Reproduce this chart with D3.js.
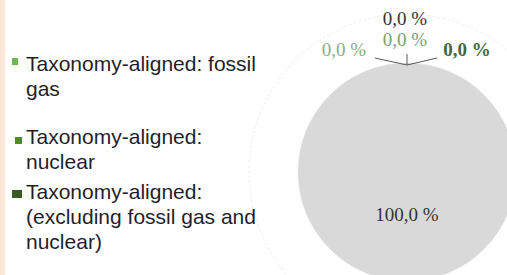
<!DOCTYPE html>
<html lang="en">
<head>
	<meta charset="utf-8">
	<title>Taxonomy alignment pie</title>
	<script type="text/javascript" src="https://cdn.jsdelivr.net/npm/d3@7"></script>
	<style>
		body { margin: 0; background: #fff; }
		.legend text { font-family: "Liberation Sans", Arial, sans-serif; font-size: 21px; fill: #1f1f2a; }
		.lbl { font-family: "Liberation Serif", "Times New Roman", serif; font-size: 19px; text-anchor: middle; }
	</style>
</head>
<body>
	<div id="chart"></div>

	<script type="text/javascript">

		// data
		var categories = ["Taxonomy-aligned: fossil gas",
			"Taxonomy-aligned: nuclear",
			"Taxonomy-aligned: (excluding fossil gas and nuclear)",
			"Other",
			"Non Taxonomy-aligned"];
		var values = [0, 0, 0, 0, 100];
		var colors = ["#6db94f", "#4f8a2f", "#385b24", "#595959", "#d9d9d9"];
		var labelColors = ["#8aae8a", "#76a176", "#3d6b3d", "#333333", "#333333"];
		var legendCount = 3;

		var w = 507,
		    h = 275;

		var cx = 407, cy = 172, r = 109;

		var svg = d3.select("#chart")
			.append("svg")
			.attr("width", w)
			.attr("height", h);

		// peach strip on the left
		svg.append("rect")
			.attr("x", 0).attr("y", 0)
			.attr("width", 5).attr("height", h)
			.attr("fill", "#fbe8d5");

		var g = svg.append("g")
			.attr("transform", "translate(" + cx + "," + cy + ")");

		// faint halo ring
		g.append("circle")
			.attr("r", 158)
			.attr("fill", "none")
			.attr("stroke", "#eeeeee")
			.attr("stroke-dasharray", "3,2");

		var pie = d3.pie().sort(null).value(function(d) {return d;});
		var arcs = pie(values);
		var arc = d3.arc().innerRadius(0).outerRadius(r);

		g.selectAll(".slice")
			.data(arcs)
			.enter()
			.append("path")
			.attr("class", "slice")
			.attr("d", arc)
			.attr("fill", function(d, i) {return colors[i];})
			.attr("stroke", "#e6e6e6")
			.attr("stroke-width", 0.6);

		// labels: zero slices sit at the top, pulled out with leader lines
		var anchor = [0, -r];
		var offsets = [[-63, -7], [-2, -17], [60, -7], [-2, -38]];
		var lineEnds = [[-32, -5], [0, -9], [30, -5]];

		g.selectAll(".lead")
			.data(lineEnds)
			.enter()
			.append("line")
			.attr("class", "lead")
			.attr("x1", anchor[0]).attr("y1", anchor[1] + 2)
			.attr("x2", function(d) {return anchor[0] + d[0];})
			.attr("y2", function(d) {return anchor[1] + d[1];})
			.attr("stroke", "#5a5a5a")
			.attr("stroke-width", 1);

		var fmt = function(v) {return d3.format(".1f")(v).replace(".", ",") + " %";};

		g.selectAll(".lbl")
			.data(arcs)
			.enter()
			.append("text")
			.attr("class", "lbl")
			.attr("x", function(d, i) {
				return d.value > 0 ? arc.centroid(d)[0] : anchor[0] + offsets[i][0];
			})
			.attr("y", function(d, i) {
				return d.value > 0 ? arc.centroid(d)[1] - 6 : anchor[1] + offsets[i][1];
			})
			.attr("fill", function(d, i) {return labelColors[i];})
			.style("font-weight", function(d, i) {return i == 2 ? "bold" : "normal";})
			.text(function(d) {return fmt(d.value);});

		// legend
		var legendBase = [71, 144, 199];
		var markers = [[12, 58, 6, 7], [15, 137, 7, 7], [12, 190, 10, 8]];
		var lineH = 25;

		svg.append("clipPath").attr("id", "lc")
			.append("rect").attr("x", 0).attr("y", 0).attr("width", 256).attr("height", h);

		var leg = svg.append("g").attr("class", "legend").attr("clip-path", "url(#lc)");

		categories.slice(0, legendCount).forEach(function(name, i) {
			leg.append("rect")
				.attr("x", markers[i][0]).attr("y", markers[i][1])
				.attr("width", markers[i][2]).attr("height", markers[i][3])
				.attr("fill", colors[i]);

			var t = leg.append("text").attr("y", legendBase[i]);
			var words = name.split(" "), line = [], n = 0;
			var ts = t.append("tspan").attr("x", 26).attr("y", legendBase[i]);
			words.forEach(function(word) {
				line.push(word);
				ts.text(line.join(" "));
				if (ts.node().getComputedTextLength() > 236 && line.length > 1) {
					line.pop();
					ts.text(line.join(" "));
					line = [word];
					n++;
					ts = t.append("tspan").attr("x", 26).attr("y", legendBase[i] + n * lineH).text(word);
				}
			});
		});
	</script>
</body>
</html>
